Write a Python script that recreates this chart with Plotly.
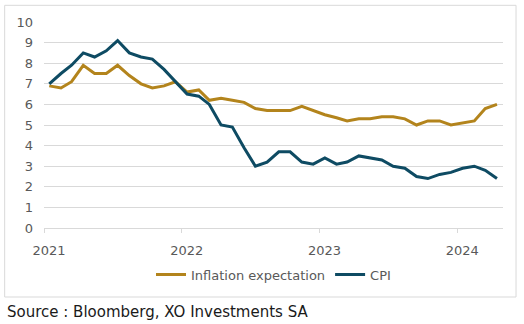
import pandas as pd
import plotly.graph_objects as go

# Monthly observations, Jan 2021 - Apr 2024 (plotted mid-month)
months = pd.date_range("2021-01-01", periods=40, freq="MS") + pd.Timedelta(days=14)

inflation_expectation = [
    6.9, 6.8, 7.1, 7.9, 7.5, 7.5, 7.9, 7.4, 7.0, 6.8, 6.9, 7.1,
    6.6, 6.7, 6.2, 6.3, 6.2, 6.1, 5.8, 5.7, 5.7, 5.7, 5.9, 5.7,
    5.5, 5.35, 5.2, 5.3, 5.3, 5.4, 5.4, 5.3, 5.0, 5.2, 5.2, 5.0,
    5.1, 5.2, 5.8, 6.0,
]
cpi = [
    7.0, 7.5, 7.9, 8.5, 8.3, 8.6, 9.1, 8.5, 8.3, 8.2, 7.7, 7.1,
    6.5, 6.4, 6.0, 5.0, 4.9, 3.9, 3.0, 3.2, 3.7, 3.7, 3.2, 3.1,
    3.4, 3.1, 3.2, 3.5, 3.4, 3.3, 3.0, 2.9, 2.5, 2.4, 2.6, 2.7,
    2.9, 3.0, 2.8, 2.4,
]
year_ticks = ["2021-01-01", "2022-01-01", "2023-01-01", "2024-01-01"]
year_labels = ["2021", "2022", "2023", "2024"]
y_ticks = list(range(0, 11))

GOLD = "#B3841C"
TEAL = "#0E4B63"
GRID = "#D9D9D9"
TEXT = "#595959"
FONT = "DejaVu Sans"

fig = go.Figure()
fig.add_trace(go.Scatter(x=months, y=inflation_expectation, mode="lines",
                         name="Inflation expectation",
                         line=dict(color=GOLD, width=3)))
fig.add_trace(go.Scatter(x=months, y=cpi, mode="lines", name="CPI",
                         line=dict(color=TEAL, width=3)))

# Outer chart frame
fig.add_shape(type="rect", xref="paper", yref="paper",
              x0=-0.0857, x1=1.0284, y0=-0.335, y1=1.081,
              line=dict(color=GRID, width=1), fillcolor="rgba(0,0,0,0)",
              layer="below")

fig.add_annotation(text="Source : Bloomberg, XO Investments SA",
                   xref="paper", yref="paper", x=-0.0857, y=-0.406,
                   xanchor="left", yanchor="middle", showarrow=False,
                   font=dict(family=FONT, size=15, color="#1a1a1a"))

fig.update_layout(
    width=524, height=324,
    margin=dict(l=44, r=21, t=22, b=96),
    paper_bgcolor="white", plot_bgcolor="white",
    font=dict(family=FONT, size=13, color=TEXT),
    showlegend=True,
    legend=dict(orientation="h", x=0.5, xanchor="center",
                y=-0.226, yanchor="middle",
                font=dict(family=FONT, size=13, color=TEXT),
                itemwidth=30, tracegroupgap=0),
    xaxis=dict(range=["2021-01-01", "2024-05-01"],
               tickvals=year_ticks, ticktext=year_labels,
               showgrid=False, showline=True, linecolor=GRID, linewidth=1,
               ticks="outside", ticklen=4, tickcolor=GRID,
               ticklabelshift=5, ticklabelstandoff=6,
               zeroline=False),
    yaxis=dict(range=[0, 10], tickvals=y_ticks,
               showgrid=True, gridcolor=GRID, gridwidth=1,
               zeroline=False, showline=False,
               ticklabelstandoff=10),
)

fig.write_html("out.html")
